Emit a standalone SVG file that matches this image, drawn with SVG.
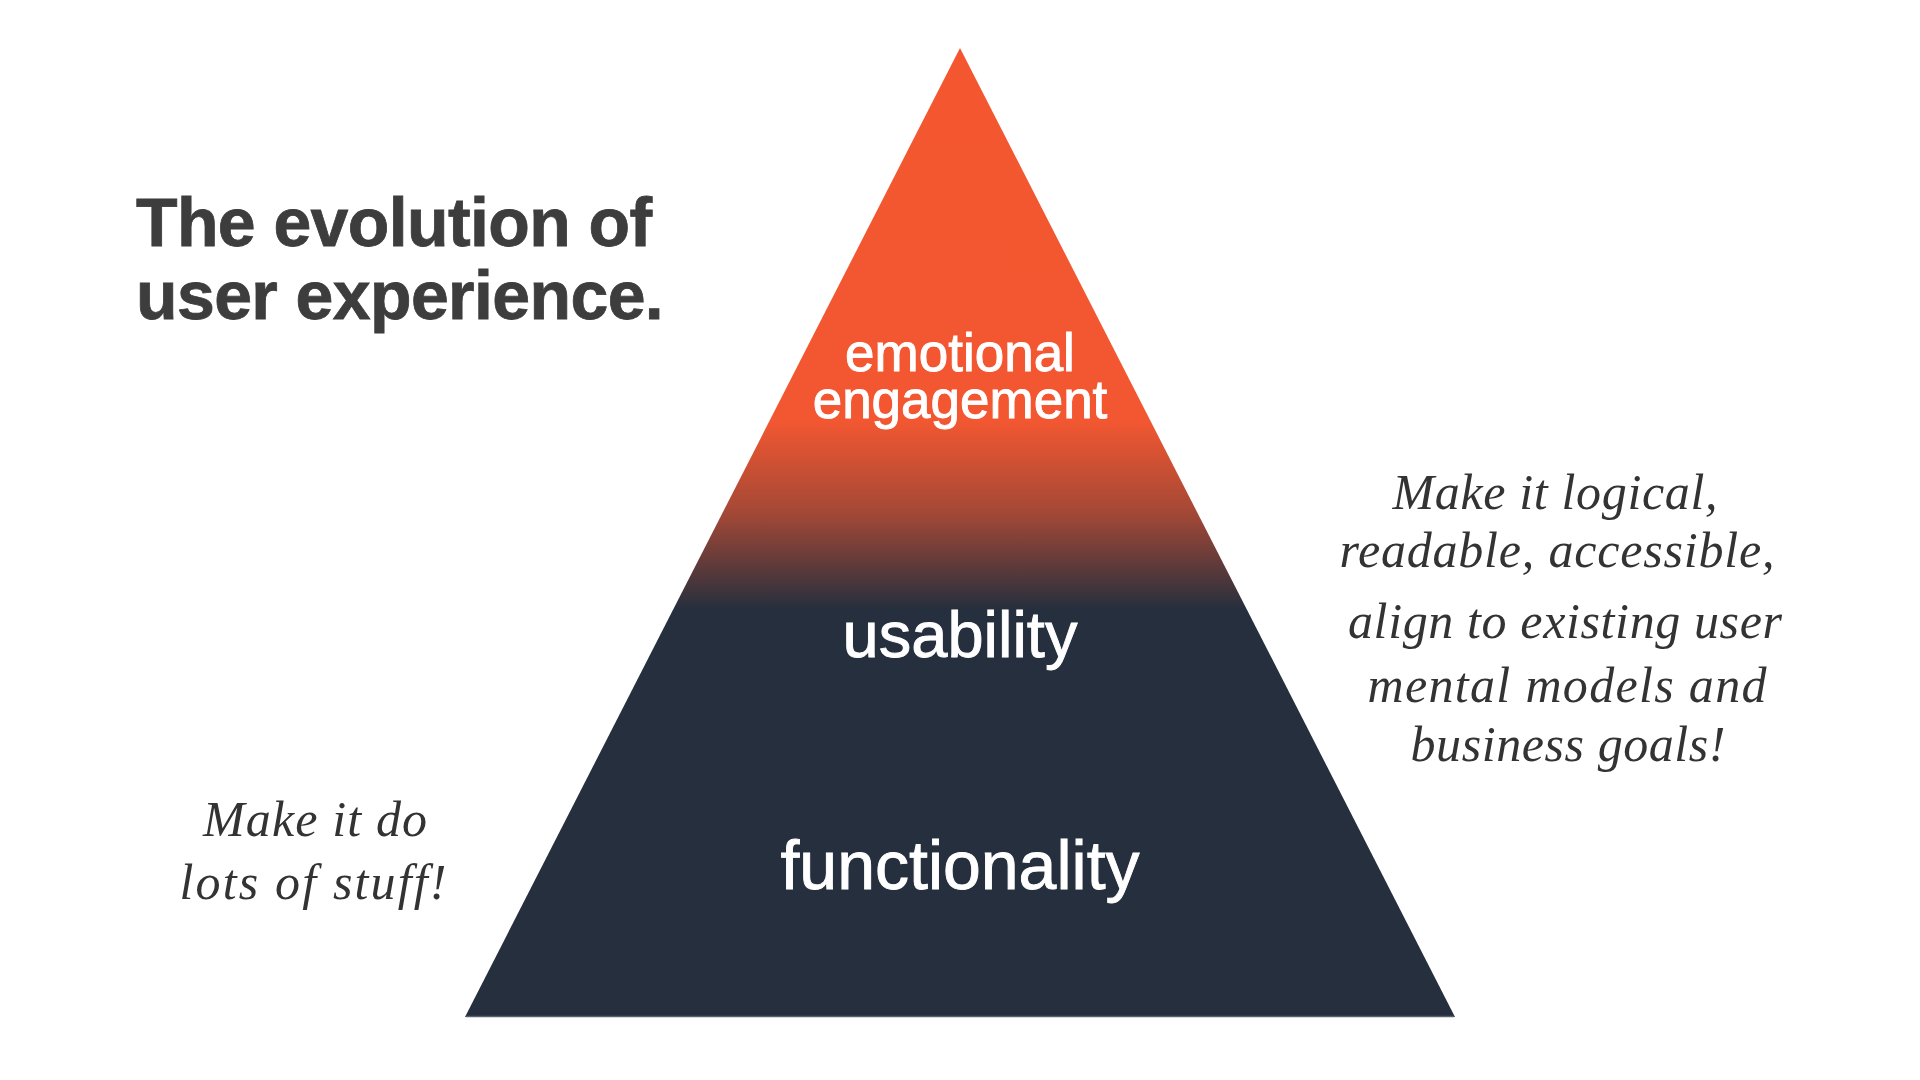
<svg xmlns="http://www.w3.org/2000/svg" width="1920" height="1080" viewBox="0 0 1920 1080">
<style>
.title{font-family:"Liberation Sans",Arial,sans-serif;font-weight:bold;font-size:68px;fill:#3d3d3d;letter-spacing:-0.6px;stroke:#3d3d3d;stroke-width:0.8px}
.lbl{font-family:"Liberation Sans",Arial,sans-serif;fill:#ffffff;text-anchor:middle;stroke:#ffffff;stroke-width:0.9px}
.hand{font-family:"Liberation Serif","DejaVu Serif",serif;font-style:italic;font-size:50px;fill:#333333;text-anchor:middle}
</style>
<defs>
<linearGradient id="pyrGrad" x1="0" y1="48" x2="0" y2="1017" gradientUnits="userSpaceOnUse">
<stop offset="0" stop-color="#F45730"/>
<stop offset="0.385" stop-color="#F25731"/>
<stop offset="0.48" stop-color="#A34836"/>
<stop offset="0.58" stop-color="#252F3E"/>
<stop offset="1" stop-color="#252F3D"/>
</linearGradient>
</defs>
<rect width="1920" height="1080" fill="#ffffff"/>
<g id="title">
<text class="title" x="136" y="246">The evolution of</text>
<text class="title" x="136" y="319">user experience.</text>
</g>
<g id="pyramid">
<polygon points="960,48 465,1017 1455,1017" fill="url(#pyrGrad)"/>
<line x1="466" y1="1016.5" x2="1454" y2="1016.5" stroke="#5a6272" stroke-width="1.5"/>
</g>
<g id="emotional-engagement">
<text class="lbl" font-size="53"><tspan x="960" y="371">emotional</tspan><tspan x="960" y="418">engagement</tspan></text>
</g>
<g id="usability">
<text class="lbl" x="960" y="657" font-size="65">usability</text>
</g>
<g id="functionality">
<text class="lbl" x="960" y="889" font-size="68">functionality</text>
</g>
<g id="note-right">
<text class="hand" x="1555" y="509" textLength="325">Make it logical,</text>
<text class="hand" x="1557" y="567" textLength="435">readable, accessible,</text>
<text class="hand" x="1565" y="638" textLength="434">align to existing user</text>
<text class="hand" x="1567" y="702" textLength="399">mental models and</text>
<text class="hand" x="1568" y="761" textLength="315">business goals!</text>
</g>
<g id="note-left">
<text class="hand" x="315" y="836" textLength="224">Make it do</text>
<text class="hand" x="313" y="899" textLength="267">lots of stuff!</text>
</g>
<g id="connectors"></g>
</svg>
